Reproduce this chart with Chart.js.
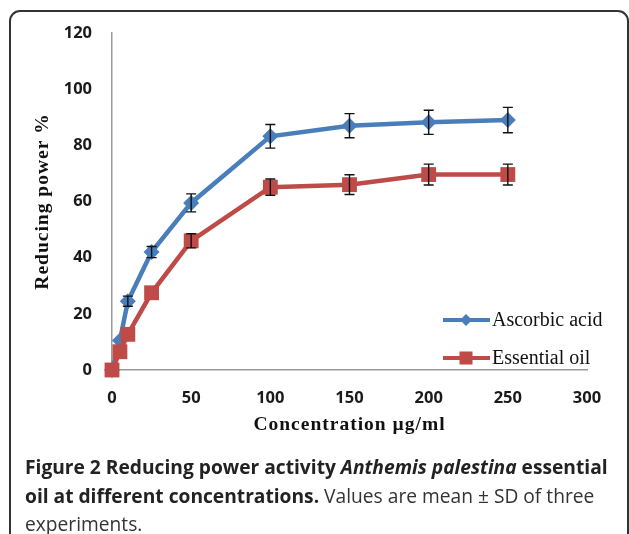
<!DOCTYPE html>
<html>
<head>
<meta charset="utf-8">
<script src="https://cdn.jsdelivr.net/npm/chart.js@4.4.1/dist/chart.umd.min.js"></script>
<style>
  body { margin: 0; background: #fff; }
  #wrap { position: relative; width: 629px; height: 534px; overflow: hidden; }
  #frame {
    position: absolute; left: 9px; top: 10px; width: 616px; height: 600px;
    border: 2px solid #333; border-radius: 11px;
  }
  #chart { position: absolute; left: 0; top: 0; }
  #caption {
    position: absolute; left: 25px; top: 453px; width: 604px;
    font-family: "Open Sans", sans-serif; font-size: 19.2px; line-height: 28.5px; color: #333;
    white-space: nowrap;
  }
  #caption b { font-weight: 700; color: #222; }
</style>
</head>
<body>
<div id="wrap">
  <div id="frame"></div>
  <canvas id="chart" width="629" height="534"></canvas>
  <div id="caption">
    <b>Figure 2 Reducing power activity <i>Anthemis palestina</i> essential</b><br>
    <b>oil at different concentrations.</b> Values are mean ± SD of three<br>
    experiments.
  </div>
</div>
<script>
// values
const concentrations = [0, 5, 10, 25, 50, 100, 150, 200, 250];
const ascorbicAcid = [0, 10.5, 24.5, 42, 59.5, 83.2, 87, 88.2, 89];
const ascorbicSD = [0, 0, 1.8, 2, 3.2, 4.2, 4.3, 4.3, 4.5];
const essentialOil = [0, 6.5, 12.7, 27.5, 46, 65.1, 66, 69.6, 69.6];
const essentialSD = [0, 0, 0, 0, 2.5, 2.9, 3.5, 3.7, 3.7];
const xTicks = [0, 50, 100, 150, 200, 250, 300];
const yTicks = [0, 20, 40, 60, 80, 100, 120];

const BLUE = '#4a7ebb';
const RED = '#be4b48';

// Error bars, axis titles and legend drawn on top of the chart
const extrasPlugin = {
    id: 'extras',
    afterDatasetsDraw(chart) {
        const ctx = chart.ctx;
        const xs = chart.scales.x;
        const ys = chart.scales.y;
        const sets = [[ascorbicAcid, ascorbicSD], [essentialOil, essentialSD]];
        ctx.save();
        ctx.strokeStyle = '#111';
        ctx.lineWidth = 1.4;
        sets.forEach(([vals, sds]) => {
            vals.forEach((v, i) => {
                if (!sds[i]) return;
                const x = xs.getPixelForValue(concentrations[i]);
                const yt = ys.getPixelForValue(v + sds[i]);
                const yb = ys.getPixelForValue(v - sds[i]);
                ctx.beginPath();
                ctx.moveTo(x, yt); ctx.lineTo(x, yb);
                ctx.moveTo(x - 5, yt); ctx.lineTo(x + 5, yt);
                ctx.moveTo(x - 5, yb); ctx.lineTo(x + 5, yb);
                ctx.stroke();
            });
        });
        ctx.restore();
    },
    afterDraw(chart) {
        const ctx = chart.ctx;
        const area = chart.chartArea;
        ctx.save();
        ctx.fillStyle = '#111';
        ctx.letterSpacing = '1px';
        ctx.font = 'bold 19.5px "Liberation Serif", serif';
        ctx.textAlign = 'center';
        ctx.textBaseline = 'middle';
        ctx.fillText('Concentration µg/ml', (area.left + area.right) / 2, 425);
        ctx.translate(43, (area.top + area.bottom) / 2);
        ctx.rotate(-Math.PI / 2);
        ctx.fillText('Reducing power %', 0, 0);
        ctx.restore();

        // legend
        const items = [
            { label: 'Ascorbic acid', color: BLUE, y: 320, shape: 'diamond' },
            { label: 'Essential oil', color: RED, y: 358, shape: 'square' }
        ];
        ctx.save();
        items.forEach(it => {
            ctx.strokeStyle = it.color;
            ctx.fillStyle = it.color;
            ctx.lineWidth = 4;
            ctx.beginPath();
            ctx.moveTo(443, it.y); ctx.lineTo(490, it.y);
            ctx.stroke();
            ctx.beginPath();
            if (it.shape === 'diamond') {
                ctx.moveTo(466 - 6, it.y); ctx.lineTo(466, it.y - 6);
                ctx.lineTo(466 + 6, it.y); ctx.lineTo(466, it.y + 6);
            } else {
                ctx.rect(466 - 6.5, it.y - 6.5, 13, 13);
            }
            ctx.fill();
            ctx.fillStyle = '#111';
            ctx.font = '20px "Liberation Serif", serif';
            ctx.textAlign = 'left';
            ctx.textBaseline = 'middle';
            ctx.fillText(it.label, 492, it.y + 1);
        });
        ctx.restore();
    }
};

const axisStyle = {
    grid: { display: true, drawOnChartArea: false, drawTicks: false },
    border: { display: true, color: '#999', width: 1.5 }
};

new Chart(document.getElementById('chart').getContext('2d'), {
    type: 'line',
    data: {
        datasets: [
            {
                label: 'Ascorbic acid',
                data: concentrations.map((c, i) => ({ x: c, y: ascorbicAcid[i] })),
                borderColor: BLUE,
                backgroundColor: BLUE,
                borderWidth: 4.5,
                pointStyle: 'rectRot',
                pointRadius: 8,
                pointBorderWidth: 0,
                clip: false,
                order: 1
            },
            {
                label: 'Essential oil',
                data: concentrations.map((c, i) => ({ x: c, y: essentialOil[i] })),
                borderColor: RED,
                backgroundColor: RED,
                borderWidth: 4.5,
                pointStyle: 'rect',
                pointRadius: 10.5,
                pointBorderWidth: 0,
                clip: false,
                order: 0
            }
        ]
    },
    options: {
        responsive: false,
        animation: false,
        devicePixelRatio: 1,
        layout: { padding: { left: 0, top: 33, right: 42, bottom: 0 } },
        plugins: { legend: { display: false }, tooltip: { enabled: false } },
        scales: {
            x: {
                type: 'linear',
                min: 0, max: 300,
                afterBuildTicks: (s) => { s.ticks = xTicks.map(v => ({ value: v })); },
                afterFit: (s) => { s.height = 164; },
                ticks: { padding: 18, color: '#1a1a1a', font: { family: 'Open Sans', weight: 'bold', size: 16.5 } },
                ...axisStyle
            },
            y: {
                min: 0, max: 120,
                afterBuildTicks: (s) => { s.ticks = yTicks.map(v => ({ value: v })); },
                afterFit: (s) => { s.width = 112; },
                ticks: { padding: 20, color: '#1a1a1a', font: { family: 'Open Sans', weight: 'bold', size: 16.5 } },
                ...axisStyle
            }
        }
    },
    plugins: [extrasPlugin]
});
</script>
</body>
</html>
